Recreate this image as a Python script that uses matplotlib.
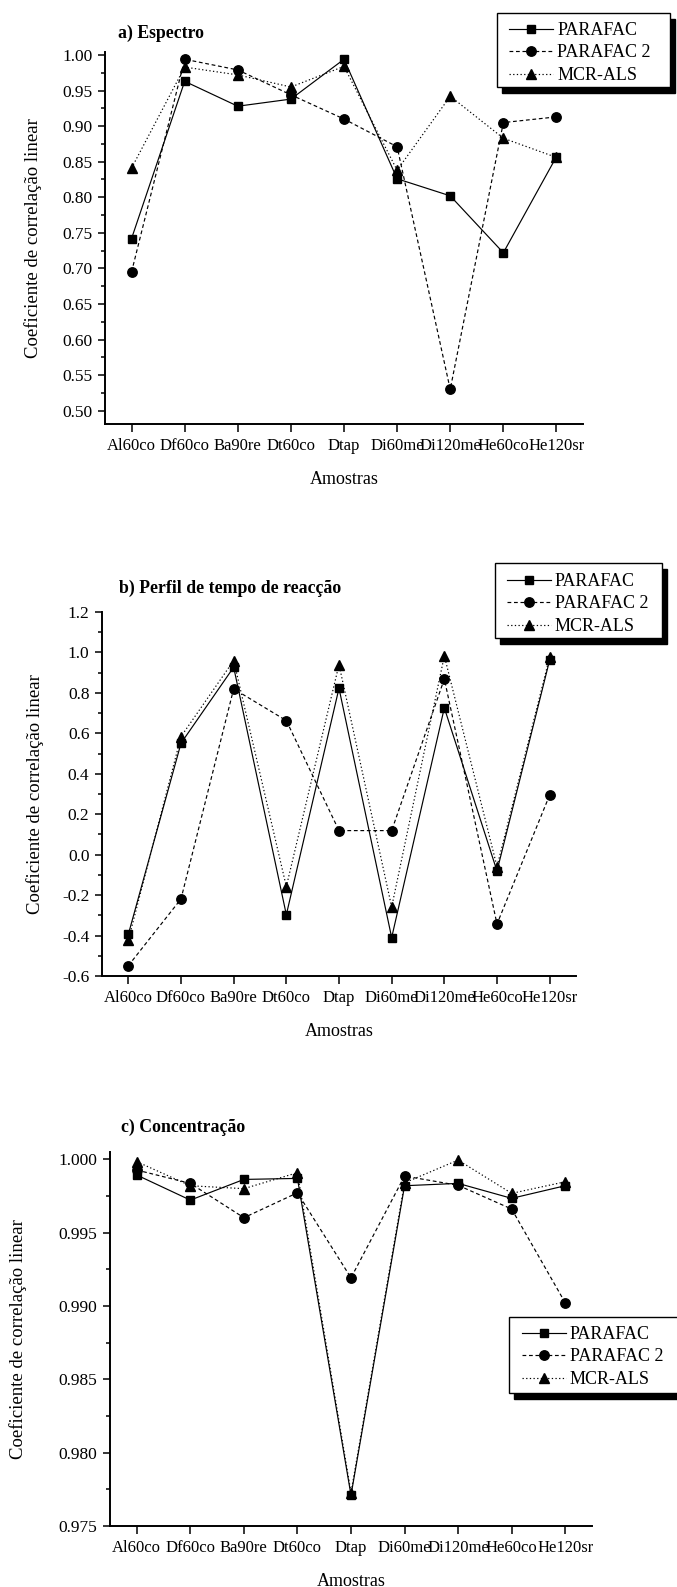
import matplotlib
matplotlib.use("Agg")
import matplotlib.pyplot as plt
from matplotlib.patches import Rectangle
from matplotlib.ticker import MultipleLocator, FormatStrFormatter

plt.rcParams['font.family'] = ['Liberation Serif', 'DejaVu Serif']
plt.rcParams['axes.unicode_minus'] = False

# Samples and linear correlation coefficients for each method
samples = ["Al60co", "Df60co", "Ba90re", "Dt60co", "Dtap",
           "Di60me", "Di120me", "He60co", "He120sr"]

espectro_parafac = [0.742, 0.963, 0.928, 0.938, 0.994, 0.826, 0.802, 0.722, 0.857]
espectro_parafac2 = [0.695, 0.994, 0.979, 0.944, 0.910, 0.871, 0.530, 0.905, 0.913]
espectro_mcr = [0.841, 0.983, 0.972, 0.955, 0.984, 0.838, 0.942, 0.883, 0.856]

perfil_parafac = [-0.394, 0.551, 0.927, -0.297, 0.823, -0.410, 0.726, -0.081, 0.963]
perfil_parafac2 = [-0.549, -0.219, 0.820, 0.663, 0.119, 0.119, 0.869, -0.343, 0.295]
perfil_mcr = [-0.422, 0.584, 0.960, -0.158, 0.940, -0.259, 0.983, -0.059, 0.978]

conc_parafac = [0.99893, 0.99722, 0.99863, 0.99870, 0.97710, 0.99820, 0.99836, 0.99734, 0.99820]
conc_parafac2 = [0.99927, 0.99836, 0.99602, 0.99772, 0.99192, 0.99886, 0.99823, 0.99661, 0.99022]
conc_mcr = [0.99984, 0.99820, 0.99800, 0.99909, 0.97728, 0.99840, 0.99995, 0.99768, 0.99847]

method_names = ["PARAFAC", "PARAFAC 2", "MCR-ALS"]

W, H = 677, 1587
fig = plt.figure(figsize=(W / 100, H / 100), dpi=100)
fig.patch.set_facecolor("white")


def px_axes(left, right, top, bottom):
    return fig.add_axes([left / W, 1 - bottom / H, (right - left) / W, (bottom - top) / H])


def px_rect(left, top, right, bottom, **kw):
    return Rectangle((left / W, 1 - bottom / H), (right - left) / W, (bottom - top) / H,
                     transform=fig.transFigure, **kw)


styles = [
    dict(linestyle="-", marker="s", markersize=6.2),
    dict(linestyle=(0, (3.2, 2.3)), marker="o", markersize=6.8),
    dict(linestyle=(0, (1.1, 2.0)), marker="^", markersize=7.2),
]


def draw_panel(box, series, ylim, major, minor, fmt, title, title_xy,
               ylabel_x, xlabel_y, legend_box, legend_anchor):
    left, right, top, bottom = box
    ax = px_axes(left, right, top, bottom)
    x = list(range(len(samples)))
    handles = []
    for vals, st, name in zip(series, styles, method_names):
        h, = ax.plot(x, vals, color="black", linewidth=0.85, markerfacecolor="black",
                     markeredgecolor="black", label=name, clip_on=False, **st)
        handles.append(h)
    ax.set_xlim(-0.5, len(samples) - 0.5)
    ax.set_ylim(*ylim)
    ax.set_xticks(x)
    ax.set_xticklabels(samples)
    ax.yaxis.set_major_locator(MultipleLocator(major))
    ax.yaxis.set_minor_locator(MultipleLocator(minor))
    ax.yaxis.set_major_formatter(FormatStrFormatter(fmt))
    for s in ("top", "right"):
        ax.spines[s].set_visible(False)
    for s in ("left", "bottom"):
        ax.spines[s].set_linewidth(1.4)
    ax.tick_params(axis="x", which="major", direction="out", length=6, width=1.1,
                   labelsize=12, pad=4)
    ax.tick_params(axis="y", which="major", direction="out", length=5, width=1.1,
                   labelsize=12.5, pad=4)
    ax.tick_params(axis="y", which="minor", direction="out", length=3, width=1.1)
    ax.tick_params(axis="x", which="minor", length=0)

    ax.set_ylabel("Coeficiente de correlação linear", fontsize=13.5, va="center")
    ax.yaxis.set_label_coords((ylabel_x - left) / (right - left), 0.5)
    ax.set_xlabel("Amostras", fontsize=13, va="center")
    ax.xaxis.set_label_coords(0.5, -(xlabel_y - bottom) / (bottom - top))

    fig.text(title_xy[0] / W, 1 - title_xy[1] / H, title, fontsize=12.8,
             fontweight="bold", ha="left", va="center")

    # legend frame with a solid drop shadow
    bl, bt, br, bb = legend_box
    fig.add_artist(px_rect(bl + 5, bt + 6, br + 5, bb + 6, facecolor="black",
                           edgecolor="black", zorder=3))
    fig.add_artist(px_rect(bl, bt, br, bb, facecolor="white", edgecolor="black",
                           linewidth=1.0, zorder=4))
    fig.legend(handles, method_names, loc="upper left",
               bbox_to_anchor=(legend_anchor[0] / W, 1 - legend_anchor[1] / H),
               bbox_transform=fig.transFigure, borderaxespad=0, borderpad=0,
               fontsize=13, frameon=False, labelspacing=0.3, handlelength=2.45,
               handletextpad=0.22).set_zorder(5)
    return ax


draw_panel((105, 583, 52, 424),
           [espectro_parafac, espectro_parafac2, espectro_mcr],
           (0.4813, 1.0042), 0.05, 0.025, "%.2f",
           "a) Espectro", (118, 33), 33, 479,
           (497, 12.7, 670, 87), (509, 22.0))

draw_panel((102, 576, 612, 976),
           [perfil_parafac, perfil_parafac2, perfil_mcr],
           (-0.6, 1.2), 0.2, 0.1, "%.1f",
           "b) Perfil de tempo de reacção", (119, 588), 35, 1031,
           (495, 563.3, 661.7, 637.7), (506.7, 573.0))

draw_panel((110, 592, 1152, 1526),
           [conc_parafac, conc_parafac2, conc_mcr],
           (0.975, 1.0005), 0.005, 0.0025, "%.3f",
           "c) Concentração", (121, 1127), 18, 1581,
           (509.3, 1317.3, 690, 1393.3), (521.7, 1326.0))

fig.savefig("out.png", dpi=100, facecolor="white")
